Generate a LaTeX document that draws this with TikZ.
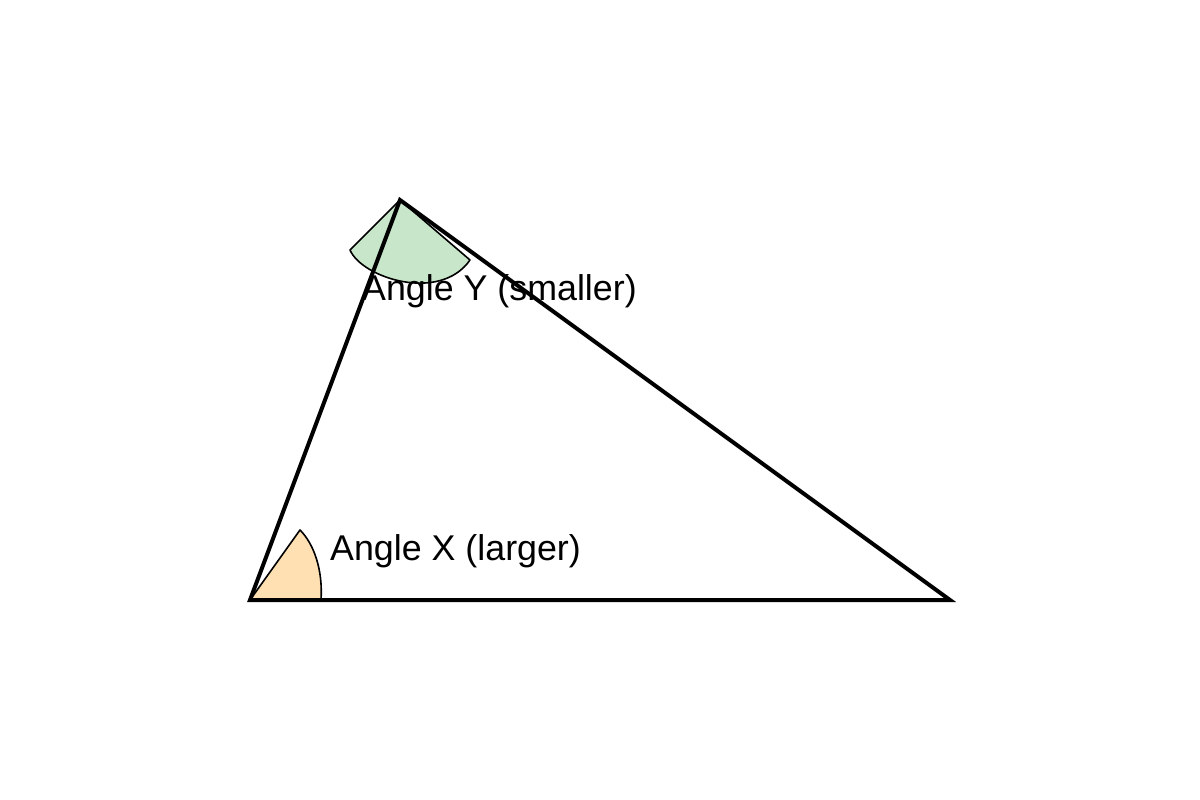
\documentclass[tikz,border=0pt]{standalone}
\usepackage{fontspec}
\setmainfont{Liberation Sans}
\definecolor{wedgeorange}{HTML}{FFE0B2}
\definecolor{wedgegreen}{HTML}{C8E6C9}
\begin{document}
\begin{tikzpicture}[x=1pt,y=-1pt,
  tri/.style={line width=4pt,line join=miter},
  wedge/.style={draw=black,line width=1.6pt,line join=round},
  lbl/.style={anchor=base west,inner sep=0pt,font=\fontsize{35.8}{42}\selectfont}]
\useasboundingbox (0,0) rectangle (1200,800);
\coordinate (A) at (250,600);
\coordinate (B) at (400,200);
\coordinate (C) at (950,600);
% angle wedges
\coordinate (xa) at (300,530);
\coordinate (xb) at (321,600);
\filldraw[wedge,fill=wedgeorange] (A) -- (xa) .. controls (314,544) and (323,570) .. (xb) -- cycle;
\coordinate (ya) at (350,250);
\coordinate (yb) at (470,260);
\filldraw[wedge,fill=wedgegreen] (B) -- (ya) .. controls (362,278) and (440,303) .. (yb) -- cycle;
% triangle
\draw[tri] (A) -- (B) -- (C) -- cycle;
% labels
\node[lbl] (lx) at (330,560) {Angle X (larger)};
\node[lbl] (ly) at (362,300) {Angle Y (smaller)};
\end{tikzpicture}
\end{document}
